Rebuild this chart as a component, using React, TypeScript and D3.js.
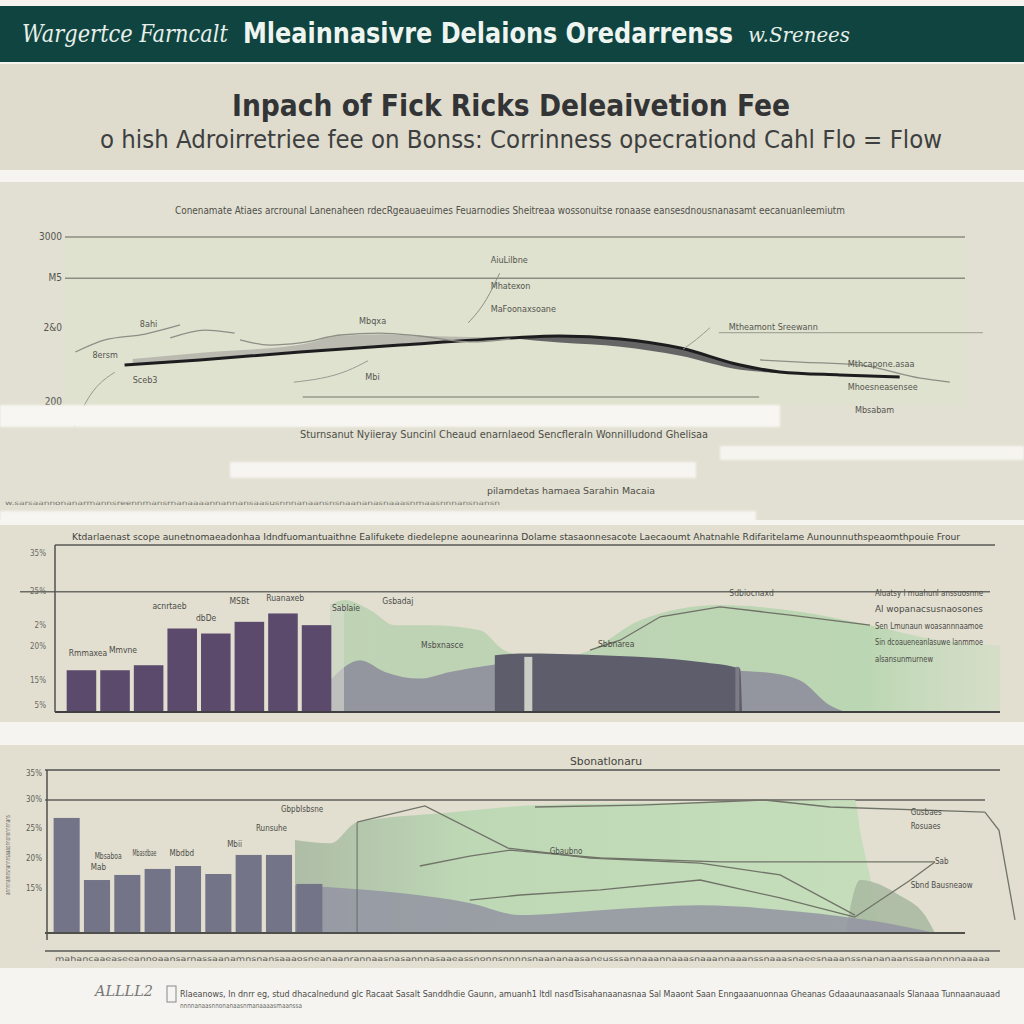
import React from "react";
import * as d3 from "d3";

// ---------- DATA ----------
const headerParts = ["Wargertce Farncalt", "Mleainnasivre Delaions Oredarrenss", "w.Srenees"];
const titleText = "Inpach of Fick Ricks Deleaivetion Fee";
const subtitleText = "o hish Adroirretriee fee on Bonss: Corrinness opecrationd Cahl Flo = Flow";

// Panel 1 (line chart)
const p1Ticks = [300, 275, 245, 200];
const p1TickLabels = ["3000", "M5", "2&0", "200"];
const p1Black: [number, number][] = [[6.1, 222.4], [14.5, 225.5], [25.7, 230.3], [36.9, 234.5], [49.2, 238.8], [54.7, 240], [61.5, 238.2], [68.2, 232.7], [74.9, 222.4], [79.3, 218.2], [86, 216.4], [92.7, 215.2]];
const p1DarkBand: [number, number, number][] = [[49.2, 238.8, 238.8], [54.7, 236, 240], [61.5, 233.5, 238.2], [68.2, 228, 232.7], [74.9, 219.5, 222.4], [79.3, 217.6, 218.2]];
const p1LightBand: [number, number, number][] = [[7, 223, 226], [15, 226, 230], [26, 231, 235], [30, 232, 240], [35, 234, 241], [40, 236, 240], [49.2, 238.8, 239]];
const p1GrayA: [number, number][] = [[0.6, 230.3], [3.9, 237.6], [8.4, 241.2], [12.3, 246.7]];
const p1GrayB: [number, number][] = [[11.2, 238.8], [15.1, 243.6], [18.4, 241.8]];
const p1GrayC: [number, number][] = [[19, 237.6], [22.3, 234.5], [25.7, 235.8], [30.2, 240.6], [34.6, 241.8], [39.1, 240], [44.7, 236.4], [49.2, 238.2]];
const p1GrayD: [number, number][] = [[77.1, 225.5], [81.6, 224.2], [88.3, 222.4], [95, 214.5], [98.3, 212.1]];
const p1Labels: [string, number, number][] = [
  ["AiuLilbne", 47, 286], ["Mhatexon", 47, 270], ["MaFoonaxsoane", 47, 256],
  ["8ahi", 7.8, 247], ["Mbqxa", 32.3, 249], ["8ersm", 2.5, 228], ["Sceb3", 7, 213],
  ["Mbi", 33, 215], ["Mtheamont Sreewann", 73.6, 245], ["Mthcapone.asaa", 86.9, 223],
  ["Mhoesneasensee", 86.9, 209], ["Mbsabam", 87.7, 195],
];

// Panel 2 (bars + areas)
const p2Cats = ["Q1", "Q2", "Q3", "Q4", "Q5", "Q6", "Q7", "Q8"];
const p2Bars = [25, 25, 28, 50, 47, 54, 59, 52];
const p2TickLabels = ["35%", "25%", "2%", "20%", "15%", "5%"];
const p2TickVals = [95, 72, 52, 39, 19, 4];
const p2Green: [number, number][] = [[0, 64], [2.2, 67], [6, 61], [9.7, 52], [14.9, 52], [22.4, 49], [26, 37], [32.1, 31], [38.8, 37], [46.3, 55], [58.2, 64], [70.1, 60], [80.6, 52], [91, 43], [100, 40]];
const p2Gray: [number, number][] = [[0, 19], [4.5, 31], [8.2, 24], [13.4, 20], [17.9, 24], [23.9, 28], [31.3, 31], [40.3, 31], [52.2, 26], [64.2, 24], [70.1, 19], [74.6, 4], [76.9, 0]];
const p2Dark: [number, number][] = [[24.6, 34], [28.4, 35], [40.3, 34], [55.2, 30], [61.2, 26], [61.5, 0]];
const p2Line: [number, number][] = [[38.8, 37], [43.3, 43], [49.3, 57], [58.2, 63], [68.7, 58], [80.6, 52]];
const p2Labels: [string, number, number][] = [
  ["Rmmaxea", -39, 35], ["Mmvne", -33, 37], ["acnrtaeb", -26.5, 63], ["MSBt", -15, 66], ["Ruanaxeb", -9.5, 68],
  ["dbDe", -20, 56], ["Sablaie", 0.3, 62], ["Gsbadaj", 7.8, 66], ["Msbxnasce", 13.6, 40], ["Sbbnarea", 40, 40.5], ["Sdbiocnaxd", 59.6, 71],
];
const p2Legend = ["Aluatsy I muahunl anssuosnne", "Al wopanacsusnaosones", "Sen Lmunaun woasannnaamoe", "Sin dcoaueneanlasuwe lanmmoe", "alsansunmurnew"];

// Panel 3 (bars + areas + lines)
const p3Bars = [70.6, 32.5, 35.6, 39.3, 41.1, 36.2, 47.9, 47.9, 30.1];
const p3Cats = ["A", "B", "C", "D", "E", "F", "G", "H", "I"];
const p3TickLabels = ["35%", "30%", "25%", "20%", "15%"];
const p3TickVals = [98, 81.6, 64.4, 46, 27.6];
const p3Green: [number, number][] = [[0, 57], [5.5, 55], [9.7, 68], [24.2, 74], [38.3, 78.5], [63.3, 80], [87.5, 81.6], [88.3, 63], [90.6, 20], [91.4, 0]];
const p3Tail: [number, number][] = [[86, 0], [88.3, 32.5], [94.5, 23], [98.4, 11], [100, 0]];
const p3Gray: [number, number][] = [[0, 29.4], [5.5, 28], [16.4, 24.5], [27.3, 18.4], [35.2, 11], [47.7, 14], [63.3, 17], [78.9, 13], [91.4, 6.7], [100, 0]];
const p3L1: [number, number][] = [[9.7, 68], [20.3, 78], [33.3, 52.1], [46.1, 46], [63.3, 42.9], [75.8, 35.6], [87.5, 11]];
const p3L2: [number, number][] = [[19.5, 41.1], [27.3, 47.2], [33.6, 50.9], [47.7, 46], [66.4, 43.6], [88.3, 43.6], [100, 43.6]];
const p3L3: [number, number][] = [[27.3, 20.2], [35.2, 23.3], [47.7, 26.4], [63.3, 32.5], [75.8, 21.5], [87.5, 9.8]];
const p3L4: [number, number][] = [[37.5, 77.3], [53.9, 78.5], [73.4, 81.6], [83.6, 77.3], [107.8, 74.2]];
const p3L5: [number, number][] = [[87.5, 9.8], [96, 32], [100, 43.6]];
const p3L6: [number, number][] = [[107.8, 74.2], [110, 63], [112.5, 8]];
const p3Labels: [string, number, number, number][] = [
  ["Gbpblsbsne", -2.2, 76, 0], ["Runsuhe", -6.1, 64, 0], ["Mbii", -10.6, 54.6, 0], ["Mbsaboa", -31.3, 47.2, 27],
  ["Mbasdbae", -25.4, 48.5, 24], ["Mbdbd", -19.6, 49, 0], ["Mab", -31.9, 39.9, 0], ["Gbaubno", 39.8, 50.3, 0], ["Sab", 100, 43.6, 0],
  ["Sbnd Bausneaow", 96.2, 29.4, 0], ["Gusbaes", 96.2, 74, 0], ["Rosuaes", 96.2, 65.5, 0],
];

// ---------- COMPONENT ----------
const FONT = "'Liberation Sans Narrow', 'DejaVu Sans Condensed', 'Liberation Sans', sans-serif";

function lineOf(xs: d3.ScaleLinear<number, number>, ys: d3.ScaleLinear<number, number>, curve: d3.CurveFactory = d3.curveMonotoneX) {
  return d3.line<[number, number]>().x(d => xs(d[0])).y(d => ys(d[1])).curve(curve);
}

export default function App() {
  // Panel 1 scales
  const x1 = d3.scaleLinear().domain([0, 100]).range([70, 965]);
  const y1 = d3.scaleLinear().domain([200, 300]).range([402, 237]);
  const l1 = lineOf(x1, y1);
  const band1 = d3.area<[number, number, number]>().x(d => x1(d[0])).y0(d => y1(d[1])).y1(d => y1(d[2])).curve(d3.curveMonotoneX);

  // Panel 2 scales
  const xb2 = d3.scaleBand<string>().domain(p2Cats).range([66, 332]).paddingInner(0.12).paddingOuter(0.02);
  const x2 = d3.scaleLinear().domain([0, 100]).range([330, 1000]);
  const y2 = d3.scaleLinear().domain([0, 100]).range([712, 545]);
  const a2 = d3.area<[number, number]>().x(d => x2(d[0])).y0(y2(0)).y1(d => y2(d[1])).curve(d3.curveMonotoneX);
  const l2 = lineOf(x2, y2, d3.curveLinear);

  // Panel 3 scales
  const xb3 = d3.scaleBand<string>().domain(p3Cats).range([53, 323]).paddingInner(0.14).paddingOuter(0.02);
  const x3 = d3.scaleLinear().domain([0, 100]).range([295, 935]);
  const y3 = d3.scaleLinear().domain([0, 100]).range([933, 770]);
  const a3 = d3.area<[number, number]>().x(d => x3(d[0])).y0(y3(0)).y1(d => y3(d[1])).curve(d3.curveMonotoneX);
  const l3 = lineOf(x3, y3, d3.curveLinear);

  const small = (t: string, x: number, y: number, len?: number, size = 10, fill = "#55554f", anchor = "start") => (
    <text x={x} y={y} fontSize={size} fill={fill} fontFamily={FONT} textAnchor={anchor as any} dominantBaseline="middle"
      {...(len ? { textLength: len, lengthAdjust: "spacingAndGlyphs" } : {})}>{t}</text>
  );

  return (
    <svg width={1024} height={1024} style={{ position: "absolute", left: 0, top: 0 }} xmlns="http://www.w3.org/2000/svg">
      <defs>
        <filter id="blur1"><feGaussianBlur stdDeviation="1.2" /></filter>
        <linearGradient id="g2" x1="0" x2="1" y1="0" y2="0">
          <stop offset="0" stopColor="#b6cfae" stopOpacity="0.8" />
          <stop offset="0.8" stopColor="#b9d6b1" stopOpacity="0.95" />
          <stop offset="1" stopColor="#c9dcc0" stopOpacity="0.5" />
        </linearGradient>
        <linearGradient id="g3" x1="0" x2="1" y1="0" y2="0">
          <stop offset="0" stopColor="#a9b9a2" stopOpacity="0.9" />
          <stop offset="0.3" stopColor="#bcd8b4" stopOpacity="0.95" />
          <stop offset="1" stopColor="#c2ddb9" stopOpacity="0.9" />
        </linearGradient>
      </defs>
      {/* page */}
      <rect x={0} y={0} width={1024} height={1024} fill="#f5f4f0" />
      {/* header */}
      <rect x={0} y={6} width={1024} height={56} fill="#0f4440" />
      <text x={22} y={35} fontSize={24} fill="#e6efe9" fontFamily="'DejaVu Serif', serif" fontStyle="italic" dominantBaseline="middle" textLength={206} lengthAdjust="spacingAndGlyphs">{headerParts[0]}</text>
      <text x={243} y={35} fontSize={28} fontWeight="bold" fill="#eef4ef" fontFamily={FONT} dominantBaseline="middle" textLength={490} lengthAdjust="spacingAndGlyphs">{headerParts[1]}</text>
      <text x={748} y={36} fontSize={21} fill="#e6efe9" fontFamily="'DejaVu Serif', serif" fontStyle="italic" dominantBaseline="middle" textLength={102} lengthAdjust="spacingAndGlyphs">{headerParts[2]}</text>

      {/* title band */}
      <rect x={0} y={64} width={1024} height={106} fill="#dfdccd" />
      <text x={232} y={107} fontSize={31} fontWeight="bold" fill="#333436" fontFamily={FONT} dominantBaseline="middle" textLength={558} lengthAdjust="spacingAndGlyphs">{titleText}</text>
      <text x={100} y={141} fontSize={24} fill="#3e3f40" fontFamily={FONT} dominantBaseline="middle" textLength={842} lengthAdjust="spacingAndGlyphs">{subtitleText}</text>

      {/* ---------- PANEL 1 ---------- */}
      <rect x={0} y={182} width={1024} height={338} fill="#e2e0d2" />
      <rect x={65} y={237} width={900} height={168} fill="#dfe2cf" />
      {small("Conenamate Atiaes arcrounal Lanenaheen rdecRgeauaeuimes Feuarnodies Sheitreaa wossonuitse ronaase eansesdnousnanasamt eecanuanleemiutm", 175, 211, 670, 10, "#4f4f4a")}
      {p1Ticks.map((t, i) => (
        <g key={i}>
          {i < 2 && <line x1={65} x2={965} y1={y1(t)} y2={y1(t)} stroke="#8c8c80" strokeWidth={1.5} />}
          {small(p1TickLabels[i], 62, y1(t), undefined, 10, "#55554f", "end")}
        </g>
      ))}
      <line x1={x1(72.5)} x2={x1(102)} y1={y1(242)} y2={y1(242)} stroke="#a8a89a" strokeWidth={1.2} />
      <line x1={x1(26)} x2={x1(77)} y1={y1(203)} y2={y1(203)} stroke="#9a9a8c" strokeWidth={1.5} />
      <path d={band1(p1LightBand) || ""} fill="#a9aaa2" opacity={0.7} />
      <path d={band1(p1DarkBand) || ""} fill="#58585a" opacity={0.9} />
      <path d={l1(p1Black) || ""} fill="none" stroke="#1d1d1f" strokeWidth={3} />
      {[p1GrayA, p1GrayB, p1GrayC, p1GrayD].map((s, i) => (
        <path key={i} d={l1(s) || ""} fill="none" stroke="#8e8e86" strokeWidth={1.3} />
      ))}
      <path d={l1([[5, 218], [1.8, 200], [0.5, 185]]) || ""} fill="none" stroke="#9a9a90" strokeWidth={1} />
      <path d={l1([[48, 278], [46.5, 262], [44.5, 248]]) || ""} fill="none" stroke="#8e8e86" strokeWidth={1} />
      <path d={l1([[33.3, 225], [31, 219], [25, 212]]) || ""} fill="none" stroke="#9a9a90" strokeWidth={1} />
      <path d={l1([[71.5, 245], [70, 238], [68.5, 232]]) || ""} fill="none" stroke="#9a9a90" strokeWidth={1} />
      {p1Labels.map(([t, x, y], i) => <g key={i}>{small(t, x1(x), y1(y), undefined, 9, "#55554f")}</g>)}

      {/* glitch strips panel 1 */}
      <rect x={0} y={405} width={780} height={22} fill="#f7f6f2" filter="url(#blur1)" />
      {small("Sturnsanut Nyiieray Suncinl Cheaud enarnlaeod Sencfleraln  Wonnilludond Ghelisaa", 300, 435, 408, 10, "#4e4e48")}
      <rect x={720} y={446} width={304} height={14} fill="#f5f4ef" filter="url(#blur1)" />
      <rect x={230} y={462} width={466} height={16} fill="#f6f5f1" filter="url(#blur1)" />
      {small("pilamdetas hamaea Sarahin Macaia", 487, 491, 168, 9, "#4e4e48")}
      {small("w.sarsaannonanarmannsreennmansrnanaaaannannansaasusnnnanaansnsnaananasnaaasnmaasnnnansnansn", 5, 503, 495, 6, "#77776f")}
      <rect x={0} y={511} width={756} height={12} fill="#f6f5f1" filter="url(#blur1)" />

      {/* ---------- PANEL 2 ---------- */}
      <rect x={0} y={525} width={1024} height={197} fill="#e2dfd0" />
      {small("Ktdarlaenast scope aunetnomaeadonhaa Idndfuomantuaithne Ealifukete diedelepne aounearinna Dolame   stasaonnesacote Laecaoumt Ahatnahle   Rdifaritelame Aunounnuthspeaomthpouie Frour", 72, 537, 888, 9.5, "#3f3f3c")}
      <line x1={55} x2={995} y1={545} y2={545} stroke="#5a5a55" strokeWidth={1.5} />
      <line x1={20} x2={990} y1={y2(72)} y2={y2(72)} stroke="#6c6c66" strokeWidth={1.3} />
      <path d={a2(p2Green) || ""} fill="url(#g2)" />
      <path d={a2(p2Gray) || ""} fill="#8f8f9c" opacity={0.9} />
      <path d={a2(p2Dark) || ""} fill="#5e5d6b" />
      <rect x={x2(29)} y={y2(33)} width={8} height={y2(0) - y2(33)} fill="#d8d8d0" opacity={0.9} />
      <rect x={x2(0)} y={y2(64)} width={14} height={y2(0) - y2(64)} fill="#d9dcd0" opacity={0.6} />
      <rect x={x2(60.5)} y={y2(27)} width={4} height={y2(0) - y2(27)} fill="#7c7b86" />
      {p2Cats.map((c, i) => (
        <rect key={c} x={xb2(c)} y={y2(p2Bars[i])} width={xb2.bandwidth()} height={y2(0) - y2(p2Bars[i])} fill="#5b4a6c" />
      ))}
      <path d={l2(p2Line) || ""} fill="none" stroke="#6f7066" strokeWidth={1.3} />
      <line x1={55} x2={55} y1={545} y2={712} stroke="#505050" strokeWidth={1.5} />
      <line x1={55} x2={1000} y1={712} y2={712} stroke="#3f3f3f" strokeWidth={2} />
      {p2TickVals.map((v, i) => <g key={i}>{small(p2TickLabels[i], 46, y2(v), undefined, 8, "#6a6a64", "end")}</g>)}
      {p2Labels.map(([t, x, y], i) => <g key={i}>{small(t, x2(x), y2(y), undefined, 8.5, "#4c4c48")}</g>)}
      {p2Legend.map((t, i) => <g key={i}>{small(t, 875, 593 + i * 16.5, 108 - (i === 4 ? 50 : 0), 8.5, "#4a4a46")}</g>)}

      {/* ---------- PANEL 3 ---------- */}
      <rect x={0} y={745} width={1024} height={223} fill="#e2dfd0" />
      {small("Sbonatlonaru", 570, 762, 72, 10, "#444440")}
      <line x1={45} x2={1000} y1={770} y2={770} stroke="#4f4f4c" strokeWidth={1.5} />
      <line x1={45} x2={985} y1={800} y2={800} stroke="#5f5f5a" strokeWidth={1.5} />
      <path d={a3(p3Green) || ""} fill="url(#g3)" />
      <path d={a3(p3Tail) || ""} fill="#a7b9a0" opacity={0.85} />
      <path d={a3(p3Gray) || ""} fill="#9394a2" opacity={0.85} />
      {p3Cats.map((c, i) => (
        <rect key={c} x={xb3(c)} y={y3(p3Bars[i])} width={xb3.bandwidth()} height={y3(0) - y3(p3Bars[i])} fill="#747489" />
      ))}
      <line x1={x3(9.7)} x2={x3(9.7)} y1={y3(68)} y2={y3(0)} stroke="#6a6a66" strokeWidth={1} />
      {[p3L1, p3L2, p3L3, p3L4, p3L5, p3L6].map((s, i) => (
        <path key={i} d={l3(s) || ""} fill="none" stroke="#707468" strokeWidth={1.3} />
      ))}
      <line x1={47} x2={47} y1={770} y2={940} stroke="#4f4f4c" strokeWidth={1.5} />
      <line x1={45} x2={965} y1={933} y2={933} stroke="#4f4f4c" strokeWidth={1.8} />
      <line x1={45} x2={1000} y1={951} y2={951} stroke="#5a5a55" strokeWidth={1.3} />
      {p3TickVals.map((v, i) => <g key={i}>{small(p3TickLabels[i], 42, y3(v), undefined, 8, "#5e5e58", "end")}</g>)}
      <text x={10} y={855} fontSize={7} fill="#6a6a64" fontFamily={FONT} textAnchor="middle" transform="rotate(-90 10 855)" textLength={80} lengthAdjust="spacingAndGlyphs">annnnamnsnannnsaaaonnonennnnans</text>
      {p3Labels.map(([t, x, y, w], i) => <g key={i}>{small(t, x3(x), y3(y), w || undefined, 8, "#4c4c48")}</g>)}
      {small("mahancaaeaseeannoaansarnassaanamnsnansaaaosneanaanrannaasnasannnasaaeassnonnsnnnnsnaananaasaneusssannaaannaaasnaaannaaanssnaaasnaeesnaaanssnananaanssaannnnnaaaaa", 55, 959, 935, 6.5, "#5e5e58")}

      {/* footer */}
      <text x={95} y={996} fontSize={14} fill="#777" fontStyle="italic" fontFamily="'DejaVu Serif', serif" textLength={58} lengthAdjust="spacingAndGlyphs">ALLLL2</text>
      <rect x={167} y={986} width={9} height={16} fill="none" stroke="#888" strokeWidth={1} />
      {small("Rlaeanows, ln dnrr eg, stud  dhacalnedund glc  Racaat  Sasalt  Sanddhdie Gaunn, amuanh1 ltdl nasdTsisahanaanasnaa  Sal Maaont Saan  Enngaaanuonnaa  Gheanas  Gdaaaunaasanaals  Slanaaa Tunnaanauaad", 180, 994, 820, 9, "#4a4a48")}
      {small("nnnnanaasnnonanaasnmanaaaasmaanssa", 180, 1006, 122, 7, "#6a6a66")}
    </svg>
  );
}
